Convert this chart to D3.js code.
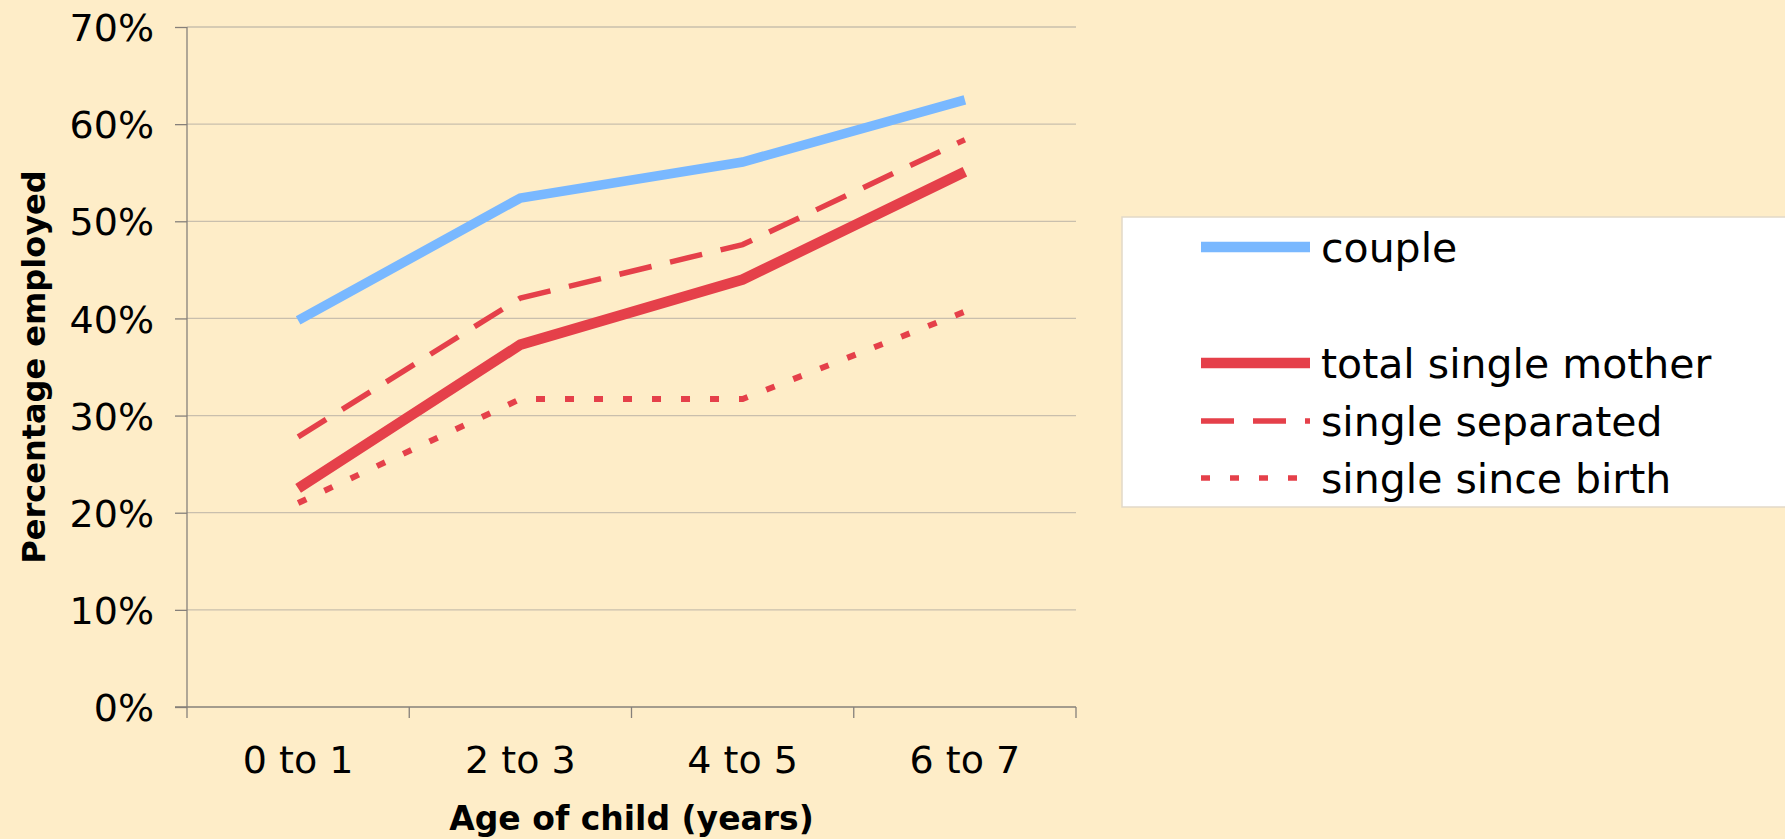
<!DOCTYPE html>
<html>
<head>
<meta charset="utf-8">
<script src="https://cdn.jsdelivr.net/npm/d3@7"></script>
<style>
  html, body { margin: 0; padding: 0; background: #FEEDC8; }
  svg { display: block; font-family: "DejaVu Sans", Verdana, sans-serif; }
</style>
</head>
<body>
<svg id="chart" width="1785" height="839"></svg>
<script>
// Employment rate of mothers by age of youngest child
const categories = ["0 to 1", "2 to 3", "4 to 5", "6 to 7"];
const couple = [0.398, 0.524, 0.561, 0.625];
const totalSingleMother = [0.225, 0.373, 0.440, 0.551];
const singleSeparated = [0.278, 0.421, 0.476, 0.584];
const singleSinceBirth = [0.210, 0.317, 0.317, 0.407];
const yTicks = [0, 0.1, 0.2, 0.3, 0.4, 0.5, 0.6, 0.7];

const seriesNames = ["couple", "total single mother", "single separated", "single since birth"];
const seriesValues = [couple, totalSingleMother, singleSeparated, singleSinceBirth];
const seriesStyle = [
  { color: "#79B8FF", width: 9.5, dash: null, legendWidth: 10.5 },
  { color: "#E5404A", width: 10.5, dash: null, legendWidth: 10.5 },
  { color: "#E5404A", width: 5.5, dash: "33,19", legendWidth: 5.5 },
  { color: "#E5404A", width: 6, dash: "9,20", legendWidth: 5.5 }
];
const legendRows = [247, 363, 421, 478];

const svg = d3.select("#chart");
const plotLeft = 187, plotRight = 1076, plotTop = 27, plotBottom = 707;

const x = d3.scaleBand().domain(categories).range([plotLeft, plotRight]).padding(0);
const y = d3.scaleLinear().domain([0, 0.7]).range([plotBottom, plotTop]);

// Horizontal gridlines
svg.append("g")
  .selectAll("line")
  .data(yTicks.filter(d => d > 0))
  .join("line")
  .attr("x1", plotLeft).attr("x2", plotRight)
  .attr("y1", d => y(d)).attr("y2", d => y(d))
  .attr("stroke", "#C9BFAD").attr("stroke-width", 1.3);

// Y axis
const yAxis = svg.append("g")
  .attr("transform", `translate(${plotLeft},0)`)
  .call(d3.axisLeft(y).tickValues(yTicks).tickFormat(d3.format(".0%")).tickSize(12).tickPadding(21));
yAxis.select(".domain").attr("stroke", "#86807a").attr("stroke-width", 1.3)
  .attr("d", `M0,${plotTop}V${plotBottom + 11}`);
yAxis.selectAll(".tick line").attr("stroke", "#86807a").attr("stroke-width", 1.3);
yAxis.selectAll(".tick text").attr("font-size", 38).attr("fill", "#000")
  .attr("font-family", "DejaVu Sans").attr("dy", "0.36em");

// X axis with ticks on band boundaries
const xAxis = svg.append("g").attr("transform", `translate(0,${plotBottom})`);
xAxis.append("line")
  .attr("x1", plotLeft - 12).attr("x2", plotRight)
  .attr("stroke", "#86807a").attr("stroke-width", 1.3);
const boundaries = categories.map(c => x(c)).concat([x(categories[categories.length - 1]) + x.bandwidth()]);
xAxis.selectAll("line.tk")
  .data(boundaries.slice(1))
  .join("line").attr("class", "tk")
  .attr("x1", d => d).attr("x2", d => d)
  .attr("y1", 0).attr("y2", 11)
  .attr("stroke", "#86807a").attr("stroke-width", 1.3);
xAxis.selectAll("text")
  .data(categories)
  .join("text")
  .attr("x", d => x(d) + x.bandwidth() / 2)
  .attr("y", 66)
  .attr("text-anchor", "middle")
  .attr("font-size", 38)
  .text(d => d);

// Axis titles
svg.append("text")
  .attr("x", (plotLeft + plotRight) / 2).attr("y", 830)
  .attr("text-anchor", "middle")
  .attr("font-size", 33).attr("font-weight", "bold")
  .text("Age of child (years)");
svg.append("text")
  .attr("transform", `translate(45,${(plotTop + plotBottom) / 2}) rotate(-90)`)
  .attr("text-anchor", "middle")
  .attr("font-size", 32).attr("font-weight", "bold")
  .text("Percentage employed");

// Series lines (drawn back to front)
const line = d3.line()
  .x((d, i) => x(categories[i]) + x.bandwidth() / 2)
  .y(d => y(d));
const drawOrder = [3, 2, 1, 0];
svg.append("g").selectAll("path")
  .data(drawOrder)
  .join("path")
  .attr("d", i => line(seriesValues[i]))
  .attr("fill", "none")
  .attr("stroke", i => seriesStyle[i].color)
  .attr("stroke-width", i => seriesStyle[i].width)
  .attr("stroke-dasharray", i => seriesStyle[i].dash)
  .attr("stroke-linejoin", "miter");

// Legend
const legend = svg.append("g");
legend.append("rect")
  .attr("x", 1122).attr("y", 217).attr("width", 700).attr("height", 290)
  .attr("fill", "#fff").attr("stroke", "#E2D9C8").attr("stroke-width", 1.5);
const rows = legend.selectAll("g.row")
  .data(seriesNames)
  .join("g").attr("class", "row")
  .attr("transform", (d, i) => `translate(0,${legendRows[i]})`);
rows.append("line")
  .attr("x1", 1201).attr("x2", 1310)
  .attr("stroke", (d, i) => seriesStyle[i].color)
  .attr("stroke-width", (d, i) => seriesStyle[i].legendWidth)
  .attr("stroke-dasharray", (d, i) => seriesStyle[i].dash);
rows.append("text")
  .attr("x", 1321).attr("y", 15)
  .attr("font-size", 41)
  .text(d => d);
</script>
</body>
</html>
